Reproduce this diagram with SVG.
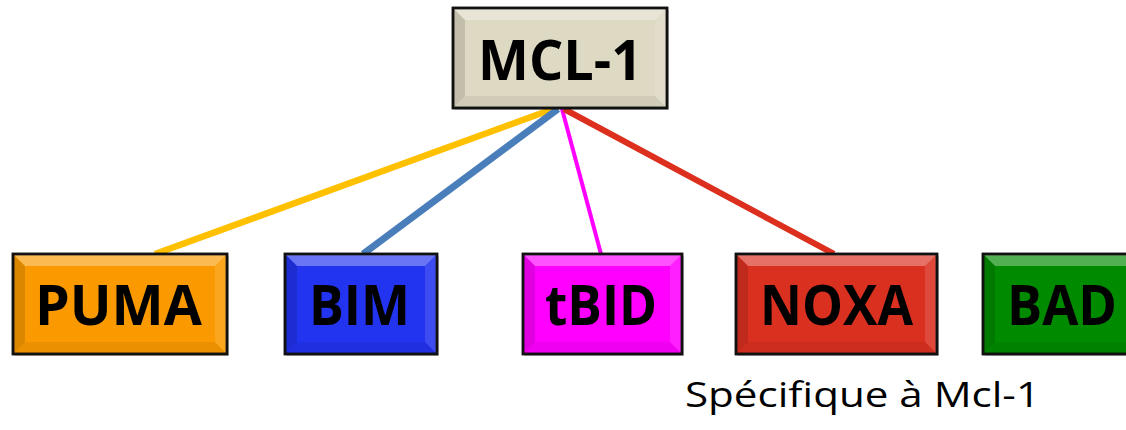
<svg xmlns="http://www.w3.org/2000/svg" width="1126" height="430" viewBox="0 0 1126 430">
<style>
.box{stroke:#111;stroke-width:2.5}
.shadow{fill:#000;opacity:0.18}
.bt{fill:#fff;opacity:0.32}
.bl{fill:#000;opacity:0.12}
.bb{fill:#000;opacity:0.06}
.br{fill:#fff;opacity:0.12}
.lbl{font-family:"Open Sans","Liberation Sans",sans-serif;font-weight:bold;font-size:56px;fill:#000;text-anchor:middle}
.note{font-family:"Open Sans","Liberation Sans",sans-serif;font-size:34px;fill:#000}
.edge{fill:none;stroke-linecap:butt}
</style>
<rect width="1126" height="430" fill="#fff"/>
<g id="connectors">
<line class="edge" x1="553" y1="109" x2="155" y2="254" stroke="#FFC000" stroke-width="6.5"/>
<line class="edge" x1="558" y1="109" x2="363" y2="254" stroke="#4A7EBB" stroke-width="7"/>
<line class="edge" x1="562" y1="109" x2="601" y2="254" stroke="#FF00FF" stroke-width="4"/>
<line class="edge" x1="564" y1="109" x2="834" y2="254" stroke="#DC2F1E" stroke-width="6"/>
</g>
<g id="node-mcl1">
<rect class="shadow" x="455" y="10" width="214" height="100"/>
<rect class="box" x="453" y="8" width="214" height="100" fill="#DDD9C3"/>
<polygon class="bt" points="453,8 667,8 655,20 465,20"/>
<polygon class="bl" points="453,8 465,20 465,96 453,108"/>
<polygon class="bb" points="453,108 667,108 655,96 465,96"/>
<polygon class="br" points="667,8 667,108 655,96 655,20"/>
<rect x="453" y="8" width="214" height="100" fill="none" stroke="#111" stroke-width="2.5"/>
<text class="lbl" x="560" y="80" textLength="164" lengthAdjust="spacingAndGlyphs">MCL-1</text>
</g>
<g id="node-puma">
<rect class="shadow" x="15" y="256" width="214" height="100"/>
<rect class="box" x="13" y="254" width="214" height="100" fill="#FA9A00"/>
<polygon class="bt" points="13,254 227,254 215,266 25,266"/>
<polygon class="bl" points="13,254 25,266 25,342 13,354"/>
<polygon class="bb" points="13,354 227,354 215,342 25,342"/>
<polygon class="br" points="227,254 227,354 215,342 215,266"/>
<rect x="13" y="254" width="214" height="100" fill="none" stroke="#111" stroke-width="2.5"/>
<text class="lbl" x="118.5" y="325" textLength="167" lengthAdjust="spacingAndGlyphs">PUMA</text>
</g>
<g id="node-bim">
<rect class="shadow" x="287" y="256" width="152" height="100"/>
<rect class="box" x="285" y="254" width="152" height="100" fill="#2234F0"/>
<polygon class="bt" points="285,254 437,254 425,266 297,266"/>
<polygon class="bl" points="285,254 297,266 297,342 285,354"/>
<polygon class="bb" points="285,354 437,354 425,342 297,342"/>
<polygon class="br" points="437,254 437,354 425,342 425,266"/>
<rect x="285" y="254" width="152" height="100" fill="none" stroke="#111" stroke-width="2.5"/>
<text class="lbl" x="359.5" y="325" textLength="101" lengthAdjust="spacingAndGlyphs">BIM</text>
</g>
<g id="node-tbid">
<rect class="shadow" x="525" y="256" width="159" height="100"/>
<rect class="box" x="523" y="254" width="159" height="100" fill="#FF00FF"/>
<polygon class="bt" points="523,254 682,254 670,266 535,266"/>
<polygon class="bl" points="523,254 535,266 535,342 523,354"/>
<polygon class="bb" points="523,354 682,354 670,342 535,342"/>
<polygon class="br" points="682,254 682,354 670,342 670,266"/>
<rect x="523" y="254" width="159" height="100" fill="none" stroke="#111" stroke-width="2.5"/>
<text class="lbl" x="601" y="325" textLength="112" lengthAdjust="spacingAndGlyphs">tBID</text>
</g>
<g id="node-noxa">
<rect class="shadow" x="738" y="256" width="201" height="100"/>
<rect class="box" x="736" y="254" width="201" height="100" fill="#DA3020"/>
<polygon class="bt" points="736,254 937,254 925,266 748,266"/>
<polygon class="bl" points="736,254 748,266 748,342 736,354"/>
<polygon class="bb" points="736,354 937,354 925,342 748,342"/>
<polygon class="br" points="937,254 937,354 925,342 925,266"/>
<rect x="736" y="254" width="201" height="100" fill="none" stroke="#111" stroke-width="2.5"/>
<text class="lbl" x="836.5" y="325" textLength="153" lengthAdjust="spacingAndGlyphs">NOXA</text>
</g>
<g id="node-bad">
<rect class="shadow" x="985" y="256" width="162" height="100"/>
<rect class="box" x="983" y="254" width="162" height="100" fill="#008A00"/>
<polygon class="bt" points="983,254 1145,254 1133,266 995,266"/>
<polygon class="bl" points="983,254 995,266 995,342 983,354"/>
<polygon class="bb" points="983,354 1145,354 1133,342 995,342"/>
<rect x="983" y="254" width="162" height="100" fill="none" stroke="#111" stroke-width="2.5"/>
<text class="lbl" x="1062" y="325" textLength="110" lengthAdjust="spacingAndGlyphs">BAD</text>
</g>
<text class="note" x="685" y="407" textLength="355" lengthAdjust="spacingAndGlyphs">Spécifique à Mcl-1</text>
</svg>
